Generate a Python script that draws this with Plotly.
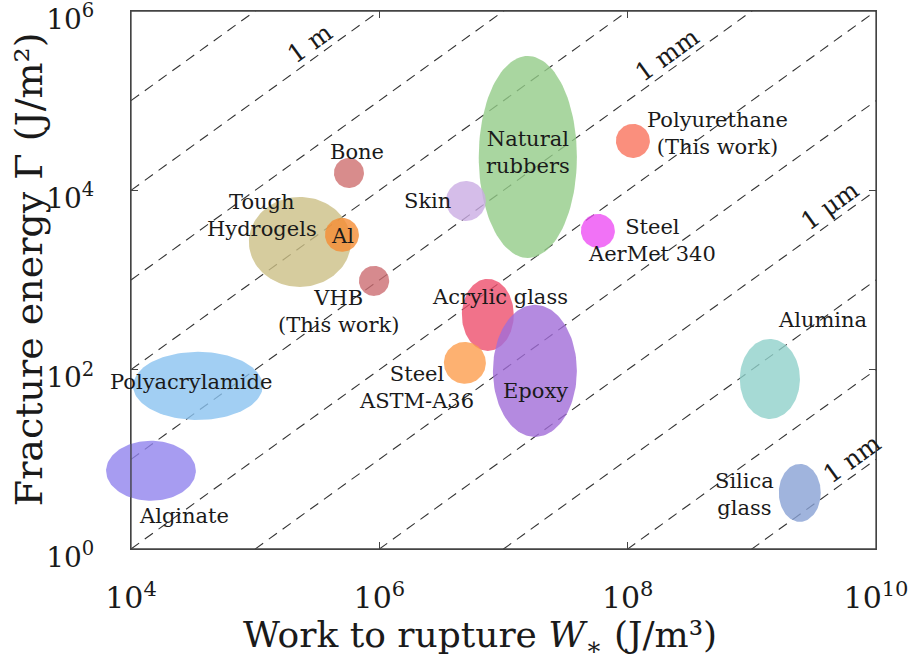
import numpy as np
import plotly.graph_objects as go

# ---------------- data ----------------
materials = ["Polyacrylamide", "Alginate", "Tough Hydrogels", "Al", "Bone", "VHB",
             "Natural rubbers", "Skin", "Acrylic glass", "Epoxy", "Steel ASTM-A36",
             "Polyurethane", "Steel AerMet 340", "Alumina", "Silica glass"]
# work to rupture W* range (J/m^3)
W_min = [1.04e4, 6.3e3, 8.9e4, 3.65e5, 4.31e5, 6.85e5, 6.32e6, 3.44e6, 4.62e6, 8.22e6, 3.31e6,
         8.04e7, 4.20e7, 8.0e8, 1.65e9]
W_max = [1.15e5, 3.33e4, 5.9e5, 6.85e5, 7.52e5, 1.20e6, 3.90e7, 7.21e6, 1.21e7, 3.90e7, 7.21e6,
         1.51e8, 7.89e7, 2.44e9, 3.59e9]
# fracture energy Gamma range (J/m^2)
G_min = [27.5, 3.45, 838, 2.06e3, 1.06e4, 665, 1.76e3, 4.56e3, 162, 17.8, 69.5,
         2.30e4, 2.28e3, 28.2, 2.01]
G_max = [158, 16.1, 8450, 4.93e3, 2.30e4, 1.44e3, 3.15e5, 1.27e4, 1.03e3, 528, 204,
         5.51e4, 5.46e3, 220, 8.89]

# characteristic lengths Gamma / W* (m) drawn as dashed guide lines
length_scales = [1e1, 1e0, 1e-1, 1e-2, 1e-3, 1e-4, 1e-5, 1e-6, 1e-7, 1e-8, 1e-9]
length_labels = ["1 m", "1 mm", "1 μm", "1 nm"]
length_label_L = [1.0, 1e-3, 1e-6, 1e-9]

x_tick_vals = [1e4, 1e6, 1e8, 1e10]
x_tick_text = ["10<sup>4</sup>", "10<sup>6</sup>", "10<sup>8</sup>", "10<sup>10</sup>"]
y_tick_vals = [1e0, 1e2, 1e4, 1e6]
y_tick_text = ["10<sup>0</sup>", "10<sup>2</sup>", "10<sup>4</sup>", "10<sup>6</sup>"]

x_title = "Work to rupture <i>W</i><sub>∗</sub> (J/m³)"
y_title = "Fracture energy Γ (J/m²)"

# ---------------- styles / label placement ----------------
colors = {
    "Polyacrylamide": "#a2cff3", "Alginate": "#a79cf1", "Tough Hydrogels": "#d6cc9e",
    "Al": "#f7a35c", "Bone": "#d88c8c", "VHB": "#d68a8e", "Natural rubbers": "#a9d6a0",
    "Skin": "#d5bde9", "Acrylic glass": "#f1728a", "Epoxy": "#b48ae0",
    "Steel ASTM-A36": "#fdb171", "Polyurethane": "#fa8f7d", "Steel AerMet 340": "#f172f6",
    "Alumina": "#a6dad5", "Silica glass": "#a0b4dd",
}
ALPHA = 0.8

label_text = {
    "Bone": "Bone", "Tough Hydrogels": "Tough<br>Hydrogels", "Al": "Al",
    "VHB": "VHB<br>(This work)", "Skin": "Skin", "Natural rubbers": "Natural<br>rubbers",
    "Polyurethane": "Polyurethane<br>(This work)", "Steel AerMet 340": "Steel<br>AerMet 340",
    "Acrylic glass": "Acrylic glass", "Steel ASTM-A36": "Steel<br>ASTM-A36", "Epoxy": "Epoxy",
    "Alumina": "Alumina", "Silica glass": "Silica<br>glass", "Polyacrylamide": "Polyacrylamide",
    "Alginate": "Alginate",
}
# label centres (log10 W, log10 Gamma)
label_pos = {
    "Bone": (5.82, 4.43), "Tough Hydrogels": (5.055, 3.715), "Al": (5.707, 3.49),
    "VHB": (5.675, 2.644), "Skin": (6.391, 3.882), "Natural rubbers": (7.196, 4.417),
    "Polyurethane": (8.726, 4.629), "Steel AerMet 340": (8.195, 3.436),
    "Acrylic glass": (6.971, 2.812), "Steel ASTM-A36": (6.303, 1.797), "Epoxy": (7.261, 1.764),
    "Alumina": (9.572, 2.555), "Silica glass": (8.944, 0.604), "Polyacrylamide": (4.483, 1.864),
    "Alginate": (4.427, 0.37),
}
length_label_logW = [5.44, 8.32, 9.63, 9.81]
LABEL_OFFSET = 0.2
X_TITLE_POS = (0.4955, -0.165)   # paper coords
Y_TITLE_POS = (-0.079, 0.52)

FONT = "DejaVu Serif"
INK = "#1a1a1a"
AX = "#444444"

W_PX, H_PX = 913, 666
ML, MR, MT, MB = 91, 37, 11, 117
EXTRA = 40  # px of room left of the y axis for ellipses that overflow it
plot_w = W_PX - ML - MR
x_dom0 = EXTRA / plot_w
X_RANGE = [4 - 1e-6, 10 + 1e-6]
Y_RANGE = [0 - 1e-6, 6 + 1e-6]
x2_lo = X_RANGE[0] - (X_RANGE[1] - X_RANGE[0]) * EXTRA / (plot_w - EXTRA)


def rgba_over_white(hexcol, a):
    c = [int(hexcol[i:i + 2], 16) for i in (1, 3, 5)]
    b = [max(0, min(255, round(255 - (255 - v) / a))) for v in c]
    return f"rgba({b[0]},{b[1]},{b[2]},{a})"


fig = go.Figure()

# dashed guide lines  Gamma = L * W
w_line = np.array([1e4, 1e10])
for L in length_scales:
    fig.add_trace(go.Scatter(
        x=w_line, y=L * w_line, mode="lines", xaxis="x", yaxis="y",
        line=dict(color="#333333", width=1.1, dash="10px,7px"),
        hoverinfo="skip", showlegend=False))

# material ellipses (in log-log space)
t = np.linspace(0, 2 * np.pi, 121)
for i, m in enumerate(materials):
    cx = (np.log10(W_min[i]) + np.log10(W_max[i])) / 2
    rx = (np.log10(W_max[i]) - np.log10(W_min[i])) / 2
    cy = (np.log10(G_min[i]) + np.log10(G_max[i])) / 2
    ry = (np.log10(G_max[i]) - np.log10(G_min[i])) / 2
    fig.add_trace(go.Scatter(
        x=10 ** (cx + rx * np.cos(t)), y=10 ** (cy + ry * np.sin(t)),
        mode="lines", fill="toself", xaxis="x2", yaxis="y2",
        fillcolor=rgba_over_white(colors[m], ALPHA), line=dict(width=0),
        name=m, hoverinfo="name", showlegend=False))

annotations = []
for m in materials:
    lx, ly = label_pos[m]
    annotations.append(dict(x=lx, y=ly, xref="x", yref="y", text=label_text[m],
                            showarrow=False, font=dict(family=FONT, size=21, color=INK),
                            xanchor="center", yanchor="middle", align="center"))

angle = -np.degrees(np.arctan((H_PX - MT - MB) / 6 / ((plot_w - EXTRA) / 6)))
for txt, L, lw in zip(length_labels, length_label_L, length_label_logW):
    annotations.append(dict(x=lw, y=np.log10(L) + lw + LABEL_OFFSET, xref="x", yref="y",
                            text=txt, showarrow=False, textangle=angle,
                            font=dict(family=FONT, size=25, color=INK),
                            xanchor="center", yanchor="middle"))

# axis titles
annotations.append(dict(x=X_TITLE_POS[0], y=X_TITLE_POS[1], xref="paper", yref="paper",
                        text=x_title, showarrow=False, xanchor="center", yanchor="middle",
                        font=dict(family=FONT, size=36, color=INK)))
annotations.append(dict(x=Y_TITLE_POS[0], y=Y_TITLE_POS[1], xref="paper", yref="paper",
                        text=y_title, showarrow=False, xanchor="center", yanchor="middle",
                        textangle=-90, font=dict(family=FONT, size=38, color=INK)))

axis_common = dict(type="log", showgrid=False, zeroline=False, showline=True,
                   linecolor=AX, linewidth=1.3, mirror="ticks", ticks="inside",
                   ticklen=7, tickwidth=1.2, tickcolor=AX, automargin=False,
                   ticklabeloverflow="allow")

# explicit frame around the plotting area
frame = dict(type="rect", xref="x domain", yref="y domain", x0=0, x1=1, y0=0, y1=1,
             line=dict(color=AX, width=1.3), fillcolor="rgba(0,0,0,0)", layer="above")

fig.update_layout(
    width=W_PX, height=H_PX,
    margin=dict(l=ML, r=MR, t=MT, b=MB),
    paper_bgcolor="white", plot_bgcolor="rgba(0,0,0,0)",
    showlegend=False,
    xaxis=dict(**axis_common, domain=[x_dom0, 1], range=X_RANGE, anchor="y",
               tickvals=x_tick_vals, ticktext=x_tick_text, ticklabelstandoff=22,
               tickfont=dict(family=FONT, size=30, color=INK)),
    yaxis=dict(**axis_common, domain=[0, 1], range=Y_RANGE, anchor="x",
               tickvals=y_tick_vals, ticktext=y_tick_text, ticklabelstandoff=30,
               ticklabelshift=8, tickfont=dict(family=FONT, size=28, color=INK)),
    xaxis2=dict(type="log", domain=[0, 1], range=[x2_lo, X_RANGE[1]], visible=False,
                anchor="y2"),
    yaxis2=dict(type="log", domain=[0, 1], range=Y_RANGE, visible=False, anchor="x2"),
    annotations=annotations,
    shapes=[frame],
)

fig.write_html("out.html", config={"displayModeBar": False},
               post_script="document.body.style.margin='0px';"
                           "document.body.style.overflow='hidden';")
